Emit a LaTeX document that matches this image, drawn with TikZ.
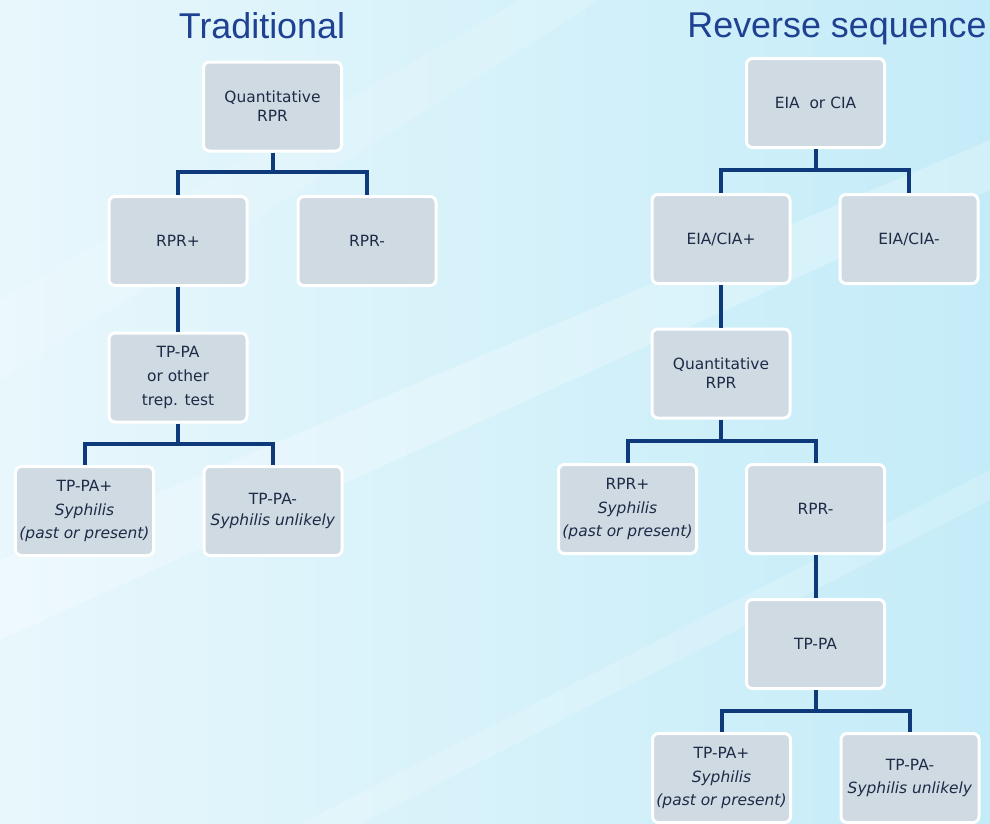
\documentclass[tikz,border=0pt]{standalone}
\usepackage{fontspec}
\setmainfont{Liberation Sans}
\newfontfamily\boxfont{DejaVu Sans}
\usetikzlibrary{calc}
\definecolor{bgL}{HTML}{E8F7FC}
\definecolor{bgR}{HTML}{C4ECF8}
\definecolor{boxfill}{HTML}{D0DAE2}
\definecolor{conncol}{HTML}{0E3A7C}
\definecolor{titlecol}{HTML}{1F4192}
\definecolor{txtcol}{HTML}{1E2B48}
\begin{document}
\begin{tikzpicture}[x=1bp,y=-1bp,
  box/.style={rectangle, rounded corners=6bp, fill=boxfill, draw=white, line width=3bp,
    minimum width=138bp, minimum height=89bp, align=center, text=txtcol,
    font=\boxfont\fontsize{15.5}{24}\selectfont, inner sep=1bp},
  conn/.style={draw=conncol, line width=4bp},
  title/.style={text=titlecol, font=\fontsize{36}{40}\selectfont, anchor=base}]
\useasboundingbox (0,0) rectangle (990,824);
% background
\shade[left color=bgL, right color=bgR] (0,0) rectangle (990,824);
\fill[white, opacity=0.25] (0,560) -- (990,140) -- (990,190) -- (0,640) -- cycle;
\fill[white, opacity=0.18] (300,824) -- (990,470) -- (990,500) -- (360,824) -- cycle;
\fill[white, opacity=0.15] (0,300) -- (520,0) -- (600,0) -- (0,380) -- cycle;
% titles
\node[title] (t1) at (262,38) {Traditional};
\node[title] (t2) at (837,37) {Reverse sequence};
% left tree
\node[box] (lq) at (272.5,106.5) {Quantitative\\[-5bp]RPR};
\node[box] (lrp) at (178,241) {RPR+};
\node[box] (lrm) at (367,241) {RPR-};
\node[box] (ltp) at (178,377.5) {TP-PA\\or other\\trep. test};
\node[box] (ltpp) at (84.5,511) {TP-PA+\\\textit{Syphilis}\\\textit{(past or present)}};
\node[box] (ltpm) at (273,511) {TP-PA-\\[-3bp]\textit{Syphilis unlikely}};
\draw[conn] (lq.south) -- ++(0,19) -| (lrp.north);
\draw[conn] (lq.south) -- ++(0,19) -| (lrm.north);
\draw[conn] (lrp.south) -- (ltp.north);
\draw[conn] (ltp.south) -- ++(0,20) -| (ltpp.north);
\draw[conn] (ltp.south) -- ++(0,20) -| (ltpm.north);
% right tree
\node[box] (re) at (815.5,103) {EIA\ \ or CIA};
\node[box] (rep) at (721,239) {EIA/CIA+};
\node[box] (rem) at (909,239) {EIA/CIA-};
\node[box] (rq) at (721,373.5) {Quantitative\\[-5bp]RPR};
\node[box] (rrp) at (627.5,509) {RPR+\\\textit{Syphilis}\\\textit{(past or present)}};
\node[box] (rrm) at (815.5,509) {RPR-};
\node[box] (rtp) at (815.5,644) {TP-PA};
\node[box] (rtpp) at (721.5,778) {TP-PA+\\\textit{Syphilis}\\\textit{(past or present)}};
\node[box] (rtpm) at (910,778) {TP-PA-\\\textit{Syphilis unlikely}};
\draw[conn] (re.south) -- ++(0,21) -| (rep.north);
\draw[conn] (re.south) -- ++(0,21) -| (rem.north);
\draw[conn] (rep.south) -- (rq.north);
\draw[conn] (rq.south) -- ++(0,21) -| (rrp.north);
\draw[conn] (rq.south) -- ++(0,21) -| (rrm.north);
\draw[conn] (rrm.south) -- (rtp.north);
\draw[conn] (rtp.south) -- ++(0,21) -| (rtpp.north);
\draw[conn] (rtp.south) -- ++(0,21) -| (rtpm.north);
\end{tikzpicture}
\end{document}
